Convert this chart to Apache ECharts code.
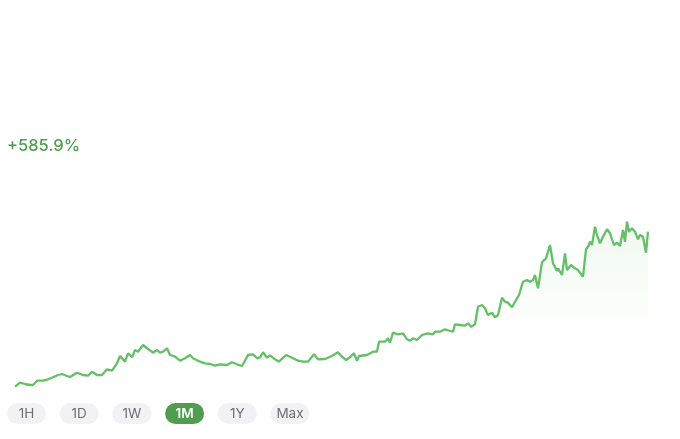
<!DOCTYPE html>
<html>
<head>
<meta charset="utf-8">
<title>1M</title>
<script src="https://cdn.jsdelivr.net/npm/echarts@6/dist/echarts.min.js"></script>
<style>
  html, body { margin: 0; padding: 0; background: #fff; }
  #chart { width: 680px; height: 439px; }
</style>
</head>
<body>
<div id="chart"></div>
<script>
// sample index (time step within the month) and price level
var steps = [0, 5, 10, 15, 18, 22, 28, 33, 38, 43, 44, 47, 52, 55, 62, 68, 73, 77, 82, 87,
  92, 97, 102, 105, 110, 113, 117, 120, 123, 128, 133, 138, 142, 145, 148, 152, 155, 160, 165, 170,
  175, 178, 185, 190, 195, 200, 205, 212, 217, 222, 227, 233, 238, 242, 245, 248, 252, 255, 260, 264,
  271, 277, 283, 288, 293, 299, 303, 310, 317, 323, 327, 331, 335, 339, 342, 344, 352, 358, 362, 364,
  370, 373, 375, 378, 383, 388, 392, 395, 398, 402, 407, 413, 418, 420, 425, 430, 435, 438, 440, 445,
  450, 453, 456, 460, 463, 467, 470, 473, 477, 480, 483, 487, 490, 493, 497, 502, 504, 508, 512, 515,
  518, 520, 523, 527, 529, 531, 535, 538, 542, 543, 547, 550, 552, 556, 560, 563, 568, 571, 573, 575,
  577, 580, 582, 585, 588, 592, 595, 599, 602, 605, 608, 610, 612, 614, 617, 620, 623, 625, 628, 631,
  633];
var prices = [26.3, 30.3, 29, 28, 28, 32.3, 32.3, 33.7, 35.7, 38, 36, 39, 37, 36, 40.3, 38, 37.3, 41.3, 38, 38,
  43.7, 42.3, 49.7, 57, 51.3, 59.7, 55.7, 63, 61.3, 68, 64, 60.3, 63, 60.3, 61.3, 64.7, 58, 56.3, 52.3, 54.7,
  58, 54.7, 51.3, 49.7, 49, 47.3, 48.7, 48, 50.7, 48.7, 47, 58, 58.7, 54.7, 55.7, 60.7, 55.3, 57.7, 53.7, 51.3,
  58, 55.3, 52.3, 51.3, 51.3, 58.7, 53.7, 54, 57, 60.7, 56.3, 53, 55.7, 59.7, 52.3, 57, 58, 61.3, 61.3, 71.3,
  71.3, 74.7, 70.3, 80.3, 78.7, 79.7, 73.7, 72.3, 74.7, 73, 78, 79.7, 78.7, 81.3, 81.3, 83.7, 82, 81.3, 88.7, 88,
  87.3, 89.7, 86.3, 88.7, 106.3, 108, 104.7, 98, 100.3, 95.7, 98, 115.3, 111.3, 110.3, 105.7, 114.7, 118, 131.3, 133, 131.3,
  133, 138, 124.7, 150.7, 149.7, 154.7, 168, 149.7, 142, 144.7, 138, 159.7, 143, 148, 144.7, 143, 136.3, 163.7, 166.3, 171.3,
  168, 186.3, 178, 169.7, 176.3, 183.7, 179.7, 168, 170.3, 167, 183, 171.3, 191.3, 181.3, 184.7, 181.3, 173.7, 178, 176.3, 160.3,
  181.3];
var changeLabel = '+585.9%';
var ranges = ['1H', '1D', '1W', '1M', '1Y', 'Max'];
var activeRange = '1M';

var series = [];
for (var i = 0; i < steps.length; i++) {
  series.push([steps[i], prices[i]]);
}

// range buttons under the chart
var buttons = [];
for (var j = 0; j < ranges.length; j++) {
  var on = ranges[j] === activeRange;
  buttons.push({
    type: 'group',
    left: 7 + j * 52.7,
    top: 403,
    children: [{
      type: 'rect',
      shape: { x: 0, y: 0, width: 39, height: 21, r: 10.5 },
      style: { fill: on ? '#4f9d4f' : '#f2f2f4' }
    }, {
      type: 'text',
      x: 19.5,
      y: 11,
      style: {
        text: ranges[j],
        fill: on ? '#ffffff' : '#6e6e73',
        font: (on ? '600 ' : '400 ') + '13.5px Inter, "Liberation Sans", sans-serif',
        align: 'center',
        verticalAlign: 'middle'
      }
    }]
  });
}

var chart = echarts.init(document.getElementById('chart'), null, { renderer: 'canvas' });
var option = {
  backgroundColor: '#ffffff',
  animation: false,
  grid: { left: 15, right: 31, top: 213, height: 200 },
  xAxis: {
    type: 'value',
    min: 0,
    max: 634,
    show: false
  },
  yAxis: {
    type: 'value',
    min: 0,
    max: 200,
    show: false
  },
  graphic: [{
    type: 'text',
    left: 7,
    top: 138,
    style: {
      text: changeLabel,
      fill: '#4e9d4e',
      font: '500 16.5px Inter, "Liberation Sans", sans-serif'
    }
  }].concat(buttons),
  series: [{
    type: 'line',
    data: series,
    symbol: 'none',
    lineStyle: { color: '#63c066', width: 2.3 },
    areaStyle: {
      color: new echarts.graphic.LinearGradient(0, 0, 0, 1, [
        { offset: 0, color: 'rgba(99,192,102,0.14)' },
        { offset: 0.6, color: 'rgba(99,192,102,0)' },
        { offset: 1, color: 'rgba(99,192,102,0)' }
      ])
    }
  }]
};
chart.setOption(option);
</script>
</body>
</html>
